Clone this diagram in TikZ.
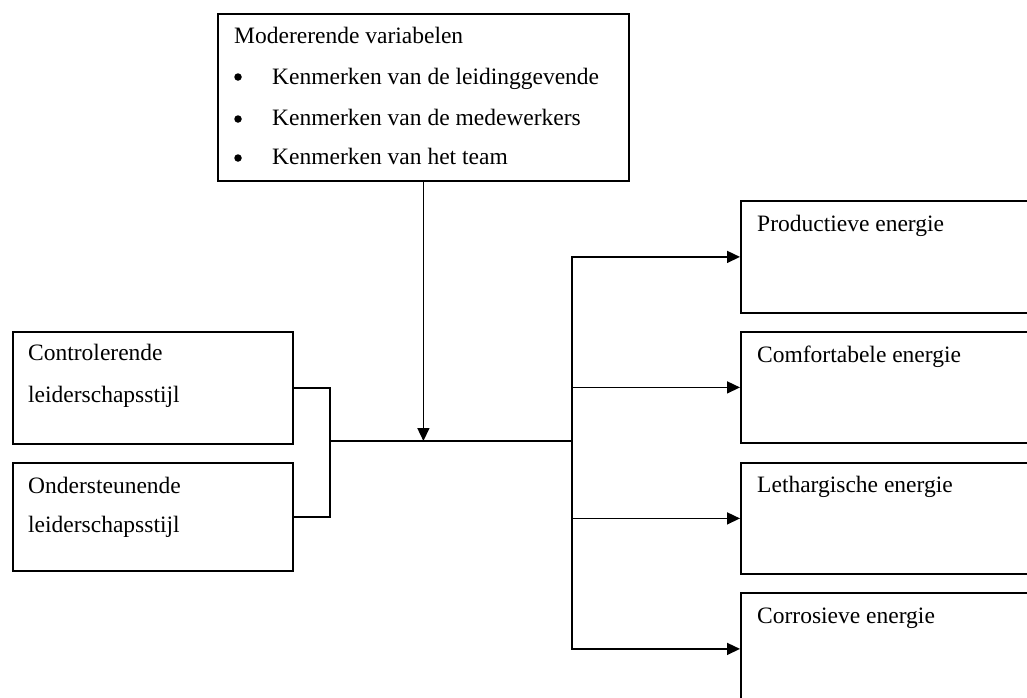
\documentclass[tikz,border=0pt]{standalone}
\usepackage{fontspec}
\setmainfont{Liberation Serif}
\usetikzlibrary{arrows.meta}
\begin{document}
\begin{tikzpicture}[x=1pt,y=-1pt,
  box/.style={draw=black, line width=1.8pt, rectangle, inner sep=0pt, anchor=north west},
  txt/.style={anchor=base west, inner sep=0pt, font=\fontsize{23.5}{28}\selectfont},
  dot/.style={circle, fill=black, inner sep=0pt, minimum size=7.5pt},
  conn/.style={draw=black, line width=1.5pt},
  arr/.style={conn, -{Triangle[length=13pt,width=12pt]}}]
\clip (0,0) rectangle (1027,697);
\fill[white] (0,0) rectangle (1027,697);
% top box
\node[box, minimum width=411pt, minimum height=167pt] (mod) at (217,13) {};
\node[txt] (modt) at (234,43) {Modererende variabelen};
\node[dot] (b1) at (238,77) {};
\node[dot] (b2) at (238,119) {};
\node[dot] (b3) at (238,158) {};
\node[txt] (m1) at (272,84) {Kenmerken van de leidinggevende};
\node[txt] (m2) at (272,125) {Kenmerken van de medewerkers};
\node[txt] (m3) at (272,164) {Kenmerken van het team};
% left boxes
\node[box, minimum width=280pt, minimum height=112pt] (ctl) at (12,331) {};
\node[txt] (ctl1) at (28,360) {Controlerende};
\node[txt] (ctl2) at (28,402) {leiderschapsstijl};
\node[box, minimum width=280pt, minimum height=108pt] (ond) at (12,462) {};
\node[txt] (ond1) at (28,493) {Ondersteunende};
\node[txt] (ond2) at (28,532) {leiderschapsstijl};
% right boxes
\node[box, minimum width=320pt, minimum height=112pt] (prod) at (740,200) {};
\node[txt] (prodt) at (757,231) {Productieve energie};
\node[box, minimum width=320pt, minimum height=111pt] (comf) at (740,331) {};
\node[txt] (comft) at (757,362) {Comfortabele energie};
\node[box, minimum width=320pt, minimum height=111pt] (leth) at (740,462) {};
\node[txt] (letht) at (757,492) {Lethargische energie};
\node[box, minimum width=320pt, minimum height=112pt] (corr) at (740,592) {};
\node[txt] (corrt) at (757,623) {Corrosieve energie};
% junctions
\coordinate (j1) at (330,441);
\coordinate (j2) at (572,441);
% connectors
\draw[conn] (ctl.east) -| (j1) |- (ond.east);
\draw[conn] (j1) -- (j2);
\draw[arr] (mod.south) -- (mod.south |- j1);
\draw[arr] (j2) |- (prod.west);
\draw[arr] (j2) |- (comf.west);
\draw[arr] (j2) |- (leth.west);
\draw[arr] (j2) |- (corr.west);
\end{tikzpicture}
\end{document}
